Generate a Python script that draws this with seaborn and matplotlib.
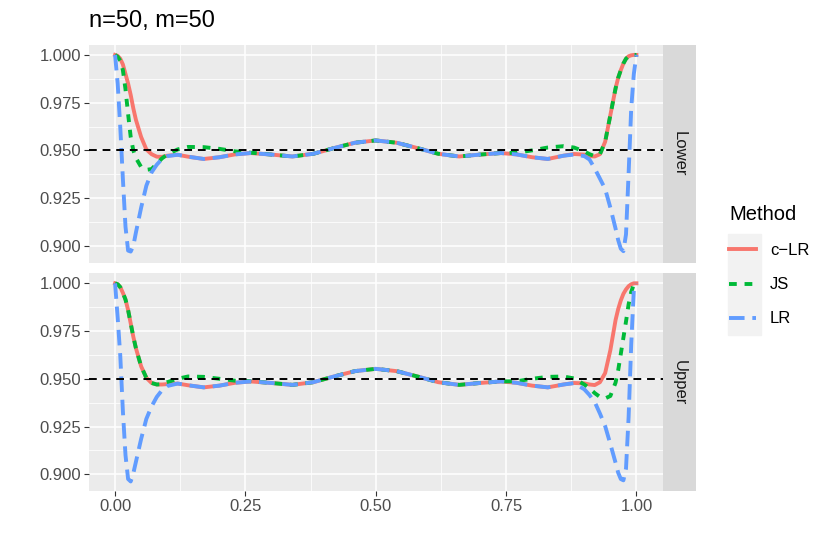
import pandas as pd
import seaborn as sns
import matplotlib.pyplot as plt
from matplotlib.lines import Line2D
from matplotlib.patches import Rectangle

# coverage curves
x_vals = [0, 0.005, 0.01, 0.015, 0.02, 0.025, 0.03, 0.035, 0.04, 0.05, 0.06, 0.07, 0.08, 0.09, 0.10,
          0.12, 0.14, 0.17, 0.20, 0.23, 0.26,
          0.30, 0.34, 0.38, 0.42, 0.46, 0.50, 0.54, 0.58, 0.62, 0.66, 0.70, 0.74,
          0.77, 0.80, 0.83, 0.86, 0.88,
          0.90, 0.91, 0.92, 0.93, 0.94, 0.95, 0.96,
          0.965, 0.97, 0.975, 0.98, 0.985, 0.99, 0.995, 1.0]

lower_clr = [1.000, 0.9995, 0.998, 0.995, 0.990, 0.985, 0.979, 0.972, 0.966, 0.957, 0.9505, 0.948, 0.9467, 0.9466, 0.9472,
             0.9477, 0.9467, 0.9455, 0.9464, 0.9479, 0.9486,
             0.9478, 0.9468, 0.9482, 0.9512, 0.9540, 0.9552, 0.9540, 0.9512, 0.9482, 0.9468, 0.9478, 0.9486,
             0.9479, 0.9464, 0.9455, 0.9472, 0.9481,
             0.9478, 0.9470, 0.9468, 0.9480, 0.9545, 0.9685, 0.9825,
             0.988, 0.992, 0.9955, 0.998, 0.9993, 0.9998, 1.000, 1.000]
lower_js = [1.000, 0.999, 0.997, 0.992, 0.982, 0.969, 0.957, 0.950, 0.946, 0.9413, 0.9398, 0.9402, 0.9430, 0.9458, 0.9478,
            0.9505, 0.9518, 0.9517, 0.9508, 0.9495, 0.9488,
            0.9478, 0.9468, 0.9482, 0.9512, 0.9540, 0.9552, 0.9540, 0.9512, 0.9482, 0.9468, 0.9478, 0.9486,
            0.9487, 0.9500, 0.9515, 0.9522, 0.9515,
            0.9495, 0.9480, 0.9470, 0.9480, 0.9545, 0.9685, 0.9825,
            0.988, 0.992, 0.9955, 0.998, 0.9993, 0.9998, 1.000, 1.000]
lower_lr = [1.000, 0.985, 0.962, 0.935, 0.910, 0.8975, 0.8970, 0.9000, 0.9070, 0.9200, 0.9315, 0.9385, 0.9425, 0.9455, 0.9470,
            0.9477, 0.9467, 0.9455, 0.9464, 0.9479, 0.9486,
            0.9478, 0.9468, 0.9482, 0.9512, 0.9540, 0.9552, 0.9540, 0.9512, 0.9482, 0.9468, 0.9478, 0.9486,
            0.9479, 0.9464, 0.9455, 0.9472, 0.9478,
            0.9470, 0.9452, 0.9405, 0.9352, 0.9298, 0.9200, 0.9090,
            0.9030, 0.8985, 0.8972, 0.9060, 0.9380, 0.9720, 0.9900, 1.000]

upper_clr = [1.000, 0.9995, 0.998, 0.995, 0.9915, 0.986, 0.979, 0.972, 0.966, 0.9565, 0.9505, 0.9478, 0.9470, 0.9470, 0.9472,
             0.9475, 0.9466, 0.9455, 0.9464, 0.9479, 0.9486,
             0.9478, 0.9468, 0.9482, 0.9512, 0.9540, 0.9552, 0.9540, 0.9512, 0.9482, 0.9468, 0.9478, 0.9486,
             0.9479, 0.9464, 0.9455, 0.9470, 0.9478,
             0.9476, 0.9470, 0.9467, 0.9482, 0.9530, 0.9650, 0.9808,
             0.9865, 0.9910, 0.9945, 0.9968, 0.9985, 0.9995, 1.000, 1.000]
upper_js = [1.000, 0.9995, 0.998, 0.995, 0.9915, 0.986, 0.979, 0.972, 0.966, 0.9565, 0.9505, 0.9478, 0.9470, 0.9472, 0.9482,
            0.9500, 0.9512, 0.9510, 0.9500, 0.9490, 0.9487,
            0.9478, 0.9468, 0.9482, 0.9512, 0.9540, 0.9552, 0.9540, 0.9512, 0.9482, 0.9468, 0.9478, 0.9486,
            0.9487, 0.9500, 0.9510, 0.9512, 0.9502,
            0.9470, 0.9450, 0.9425, 0.9405, 0.9397, 0.9410, 0.9480,
            0.9545, 0.9630, 0.9715, 0.9800, 0.9890, 0.9955, 0.9995, 1.000]
upper_lr = [1.000, 0.982, 0.962, 0.933, 0.910, 0.8975, 0.8962, 0.9005, 0.9065, 0.9185, 0.9290, 0.9355, 0.9405, 0.9440, 0.9462,
            0.9475, 0.9466, 0.9455, 0.9464, 0.9479, 0.9486,
            0.9478, 0.9468, 0.9482, 0.9512, 0.9540, 0.9552, 0.9540, 0.9512, 0.9482, 0.9468, 0.9478, 0.9486,
            0.9479, 0.9464, 0.9455, 0.9470, 0.9477,
            0.9445, 0.9415, 0.9378, 0.9318, 0.9252, 0.9158, 0.9060,
            0.9008, 0.8975, 0.8968, 0.9030, 0.9300, 0.9680, 0.9965, 1.000]

methods = ['c-LR', 'JS', 'LR']
method_labels = ['c\u2212LR', 'JS', 'LR']
panels = ['Lower', 'Upper']
nominal = 0.95
x_ticks = [0.00, 0.25, 0.50, 0.75, 1.00]
y_ticks = [0.900, 0.925, 0.950, 0.975, 1.000]

series = {
    ('Lower', 'c-LR'): lower_clr, ('Lower', 'JS'): lower_js, ('Lower', 'LR'): lower_lr,
    ('Upper', 'c-LR'): upper_clr, ('Upper', 'JS'): upper_js, ('Upper', 'LR'): upper_lr,
}
df = pd.concat([pd.DataFrame({'x': x_vals, 'coverage': v, 'Method': m, 'bound': b})
                for (b, m), v in series.items()], ignore_index=True)

palette = {'c-LR': '#F8766D', 'JS': '#00BA38', 'LR': '#619CFF'}
dash_map = {'c-LR': '', 'JS': (2, 2), 'LR': (4, 2)}

plt.rcParams['font.family'] = ['Liberation Sans', 'DejaVu Sans']

W, H = 830, 554
fig = plt.figure(figsize=(W / 100, H / 100), dpi=100)


def box(l, t, r, b):
    return [l / W, 1 - b / H, (r - l) / W, (b - t) / H]


ymin, ymax = df.coverage.min(), df.coverage.max()
ypad = (ymax - ymin) * 0.05
lw = 2.8

for i, b in enumerate(panels):
    top = 45 if i == 0 else 273.4
    ax = fig.add_axes(box(89, top, 662.5, top + 218))
    ax.set_facecolor('#EBEBEB')
    ax.set_axisbelow(True)
    sns.lineplot(data=df[df.bound == b], x='x', y='coverage', hue='Method', style='Method',
                 hue_order=methods, style_order=methods, palette=palette, dashes=dash_map,
                 linewidth=lw, errorbar=None, legend=False, ax=ax)
    ax.axhline(nominal, color='black', lw=1.4, ls=(0, (4, 3)), zorder=5)
    ax.set_xlim(-0.05, 1.05)
    ax.set_ylim(ymin - ypad, ymax + ypad)
    ax.set_xticks(x_ticks)
    ax.set_xticks([0.125, 0.375, 0.625, 0.875], minor=True)
    ax.set_yticks(y_ticks)
    ax.set_yticks([0.9125, 0.9375, 0.9625, 0.9875], minor=True)
    ax.set_yticklabels([f'{v:.3f}' for v in y_ticks])
    ax.grid(which='major', color='white', lw=1.1)
    ax.grid(which='minor', color='white', lw=0.55)
    ax.tick_params(which='major', length=3.5, width=0.8, color='#333333',
                   labelcolor='#4D4D4D', labelsize=12, pad=2)
    ax.tick_params(which='minor', length=0)
    if i == 0:
        ax.tick_params(axis='x', length=0, labelbottom=False)
    else:
        ax.set_xticklabels([f'{v:.2f}' for v in x_ticks])
    ax.set_xlabel('')
    ax.set_ylabel('')
    for s in ax.spines.values():
        s.set_visible(False)

    sax = fig.add_axes(box(662.5, top, 696, top + 218))
    sax.set_facecolor('#D9D9D9')
    sax.set_xticks([])
    sax.set_yticks([])
    for s in sax.spines.values():
        s.set_visible(False)
    sax.text(0.5, 0.5, b, rotation=-90, ha='center', va='center',
             fontsize=12, color='#1A1A1A', transform=sax.transAxes)

fig.text(89 / W, 1 - 21 / H, 'n=50, m=50', fontsize=17, ha='left', va='center')

# legend
fig.patches.append(Rectangle((728 / W, 1 - 335 / H), 33 / W, 101 / H,
                             transform=fig.transFigure, color='#F2F2F2', zorder=0))
handles = [Line2D([], [], color=palette[m], lw=lw,
                  ls='-' if m == 'c-LR' else (0, dash_map[m])) for m in methods]
fig.legend(handles, method_labels, title='Method', loc='upper left',
           bbox_to_anchor=(729 / W, 1 - 205 / H), frameon=False, fontsize=12,
           title_fontsize=14.5, handlelength=1.6, labelspacing=1.15,
           handletextpad=0.85, borderpad=0, borderaxespad=0, alignment='left')

plt.savefig('out.png', dpi=100)
